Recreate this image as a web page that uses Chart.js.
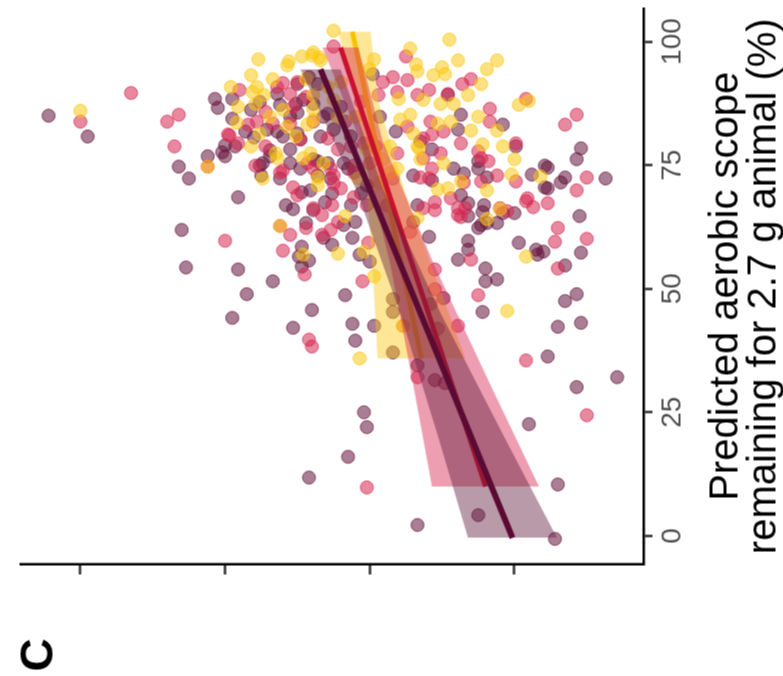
<!DOCTYPE html>
<html>
<head>
<meta charset="utf-8">
<script src="https://cdn.jsdelivr.net/npm/chart.js@4"></script>
<style>
  html, body { margin: 0; padding: 0; background: #fff; overflow: hidden; }
  body { width: 783px; height: 676px; position: relative; }
  /* the plot is built upright, then turned a quarter turn to the left */
  #wrap {
    position: absolute; left: 53.5px; top: -53.5px;
    width: 676px; height: 783px;
    transform: rotate(-90deg); transform-origin: 50% 50%;
  }
  #panel {
    position: absolute; left: 5px; top: 9px;
    font: bold 46px "Liberation Sans", Arial, sans-serif; color: #000;
  }
</style>
</head>
<body>
<div id="wrap">
  <canvas id="myChart" width="676" height="783"></canvas>
  <div id="panel">C</div>
</div>
<script>
// ticks
const scopeTicks = [0, 25, 50, 75, 100];
const sideTicks = [10, 20, 30, 40];

// points, [scope %, side value]
const darkPts = [[85.0,42.2],[80.8,39.5],[74.7,33.2],[72.3,32.5],[76.8,31.2],[88.4,30.7],[86.6,30.5],[88.4,29.5],[84.4,29.5],[79.0,30.0],[77.6,30.2],[76.8,30.0],[68.5,29.1],[61.9,33.0],[54.3,32.7],[53.9,29.1],[48.9,28.5],[44.1,29.5],[48.7,21.7],[45.7,24.0],[42.1,25.3],[42.9,21.2],[42.5,19.7],[39.5,21.0],[25.0,20.4],[22.0,20.2],[16.0,21.5],[11.8,24.2],[45.3,12.2],[47.5,6.5],[48.9,5.7],[42.3,7.0],[43.1,5.4],[36.3,7.7],[32.1,2.9],[30.1,5.7],[22.6,9.0],[10.4,7.0],[4.2,12.5],[2.2,16.7],[-0.6,7.2],[37.1,18.4],[45.3,18.4],[47.9,18.4],[34.5,16.7],[31.5,15.5],[30.9,14.8],[55.9,13.9],[54.1,12.0],[51.5,12.0],[51.9,11.2],[56.9,8.4],[54.7,6.5],[74.5,7.7],[73.1,8.8],[76.2,5.7],[72.5,6.5],[71.5,6.8],[72.3,3.7],[70.3,7.7],[64.7,5.5],[65.3,10.0],[63.3,11.2],[63.3,11.9],[62.3,12.5],[65.5,12.2],[67.3,13.2],[64.7,13.2],[60.5,15.9],[59.3,9.7],[57.9,8.5],[57.5,8.0],[57.3,5.4],[59.7,13.2],[57.9,13.2],[72.5,11.9],[74.3,12.5],[73.3,13.5],[74.3,14.2],[71.9,15.7],[75.8,12.5],[72.9,17.0],[66.9,16.7],[51.5,26.7],[58.5,24.7],[56.5,24.9],[55.7,24.2],[54.5,24.7],[63.3,24.4],[66.1,25.3],[65.9,23.9],[60.3,23.2],[58.9,22.6],[62.9,21.8],[63.5,21.0],[60.3,21.2],[56.9,20.7],[55.5,20.0],[69.3,20.6],[67.5,23.1],[69.5,24.7],[72.3,26.2],[75.4,27.4],[72.9,27.5],[69.3,22.6],[74.3,21.5],[76.2,23.9],[74.3,24.8],[75.8,23.6],[75.4,22.9],[86.2,28.2],[89.4,26.4],[87.2,26.2],[92.8,24.2],[87.4,25.1],[82.2,27.1],[80.6,28.0],[78.8,29.3],[81.8,26.4],[85.6,25.0],[81.4,25.0],[82.2,22.5],[91.4,23.6],[84.8,23.2],[85.4,22.9],[78.0,26.9],[78.2,25.5],[93.4,19.8],[89.2,14.6],[85.2,13.7],[83.2,10.8],[78.2,15.7],[78.8,9.9],[74.9,7.9],[70.5,7.9],[65.3,10.8],[66.9,12.1],[62.9,12.3],[68.9,13.7],[63.5,17.0],[72.3,22.7],[66.9,21.3],[70.9,20.2],[75.4,21.8],[72.9,23.6],[75.4,25.5],[74.9,27.6],[76.8,26.9],[80.8,26.0],[80.2,24.8],[87.4,23.9],[88.2,24.6],[91.4,25.0],[79.8,16.5],[82.2,13.9],[78.4,5.4],[41.9,15.3],[48.1,14.9],[46.9,15.8],[84.8,25.5],[80.8,23.4],[86.8,22.0],[87.8,27.6],[81.8,28.6],[80.8,21.3],[69.9,24.1],[66.9,25.8],[84.8,19.3],[81.8,18.2]];

const redPts = [[83.8,40.0],[89.6,36.5],[83.8,34.0],[85.2,33.2],[78.8,33.5],[90.2,29.0],[81.0,29.7],[79.4,29.1],[59.7,30.0],[39.7,24.2],[38.3,24.0],[9.8,20.2],[48.7,12.5],[35.5,9.2],[24.4,5.0],[55.9,13.0],[54.1,7.0],[51.5,20.5],[32.1,16.7],[42.5,13.9],[53.9,15.5],[49.9,15.5],[71.7,9.9],[72.5,5.0],[69.9,5.7],[67.7,9.2],[66.5,8.7],[67.3,7.7],[65.7,10.5],[66.3,13.9],[64.5,13.7],[65.9,15.5],[62.3,7.0],[60.1,5.0],[59.5,7.2],[71.7,12.3],[71.5,13.5],[74.3,15.7],[75.8,11.8],[72.5,16.5],[61.5,17.2],[57.7,26.0],[52.9,24.5],[62.3,24.4],[66.3,23.9],[64.9,23.3],[60.9,23.3],[63.5,22.2],[61.9,22.7],[68.5,21.1],[59.3,20.1],[66.9,22.6],[74.3,23.9],[68.9,25.0],[70.5,25.3],[73.9,26.0],[71.3,22.5],[72.9,22.5],[74.9,21.1],[99.0,22.5],[91.6,26.0],[91.8,25.0],[85.8,27.2],[83.2,28.4],[83.8,27.8],[81.2,29.8],[83.4,26.7],[80.2,24.8],[80.4,22.9],[83.8,23.9],[97.0,17.5],[92.4,13.0],[91.4,13.6],[92.2,17.4],[92.8,18.4],[91.8,19.1],[89.2,19.4],[89.8,18.1],[89.2,16.7],[90.2,15.9],[89.4,14.6],[86.4,11.7],[88.4,9.2],[83.8,11.7],[79.4,13.7],[81.8,14.9],[82.8,17.4],[80.4,16.3],[77.4,18.1],[76.4,16.3],[76.4,12.3],[68.3,9.1],[72.9,11.2],[66.3,11.0],[66.3,13.4],[64.9,13.9],[68.3,14.4],[67.5,15.5],[72.3,15.9],[66.3,16.3],[66.9,18.8],[66.9,20.2],[73.5,21.1],[70.3,22.0],[75.4,20.0],[72.3,18.4],[79.4,20.4],[78.8,21.3],[78.2,22.2],[74.3,22.7],[75.4,24.3],[73.5,26.2],[83.4,25.5],[86.8,25.3],[90.8,26.4],[89.4,25.5],[83.2,6.5],[85.2,5.7],[79.4,9.9],[83.8,15.8],[81.2,15.7],[77.4,15.1],[77.8,12.5],[74.7,31.2],[62.7,26.2],[42.5,17.7],[88.8,24.4],[78.8,27.2],[83.8,21.7],[78.8,19.6],[60.9,25.5],[74.9,27.9],[87.8,20.6]];

const yellowPts = [[86.0,40.0],[83.6,29.2],[86.8,29.1],[35.9,20.7],[45.5,10.5],[76.2,10.0],[73.1,10.2],[72.7,8.2],[66.1,11.0],[64.1,11.9],[56.5,9.2],[69.9,11.9],[70.3,14.6],[70.1,15.3],[75.4,14.9],[71.7,13.7],[64.3,16.7],[74.3,18.1],[76.2,16.5],[72.3,27.4],[56.9,24.6],[64.7,21.7],[57.5,20.4],[57.1,22.2],[52.5,19.7],[70.9,23.6],[72.5,23.6],[76.4,24.6],[76.4,26.4],[75.4,23.2],[102.2,22.5],[96.4,27.7],[93.2,28.2],[92.4,26.7],[96.0,25.6],[97.0,24.7],[97.2,24.0],[96.8,23.5],[95.2,25.7],[89.8,28.1],[87.4,27.9],[89.2,27.3],[86.2,26.0],[92.4,24.4],[78.8,28.2],[82.8,25.7],[89.2,23.9],[90.8,22.9],[88.2,22.5],[84.8,22.2],[86.4,23.9],[83.2,24.3],[77.4,26.5],[100.4,14.5],[98.6,17.2],[96.2,13.9],[96.2,11.2],[94.4,11.9],[95.4,16.8],[94.0,16.7],[94.8,15.0],[93.4,14.8],[91.4,12.3],[87.2,9.7],[88.0,9.0],[84.8,12.5],[82.0,11.2],[79.2,12.2],[78.8,10.8],[93.2,15.6],[89.2,13.2],[87.4,15.1],[87.4,14.2],[83.8,14.4],[82.0,13.0],[78.4,16.6],[84.2,17.9],[85.2,17.2],[96.4,19.7],[94.4,20.0],[88.4,18.0],[88.2,16.3],[83.4,15.3],[81.4,17.0],[78.8,16.7],[71.5,19.3],[72.3,20.8],[76.2,19.1],[73.5,18.6],[78.2,20.2],[77.4,24.1],[81.4,27.6],[84.2,23.9],[90.8,27.8],[97.8,23.9],[96.2,23.4],[74.7,31.2],[62.7,26.2],[42.5,17.7],[84.8,26.9],[91.8,22.0],[80.8,25.1],[84.8,21.0],[90.8,29.6],[78.8,18.6]];

// fitted lines [scope, value] and bands [scope, low, high]
const darkFit = [[-0.4,10.14],[94.4,23.41]];
const darkBand = [[-0.4,7.06,13.21],[20,10.71,15.27],[45,15.09,17.89],[70,19.05,20.93],[94.4,22.02,24.79]];
const redFit = [[9.98,12.0],[98.8,22.02]];
const redBand = [[9.98,8.31,15.70],[30,11.57,16.96],[55,15.58,18.59],[80,19.12,20.68],[98.8,20.78,23.27]];
const yellowFit = [[35.9,16.43],[102.0,21.20]];
const yellowBand = [[35.9,13.39,19.47],[50,15.16,19.72],[70,17.61,20.17],[88,19.41,20.96],[102,19.95,22.16]];

const fontFam = '"Liberation Sans", Arial, sans-serif';

function xy(arr) { return arr.map(p => ({ x: p[0], y: p[1] })); }
function lo(arr) { return arr.map(b => ({ x: b[0], y: b[1] })); }
function hi(arr) { return arr.map(b => ({ x: b[0], y: b[2] })); }

function fitLine(data, color, width, order) {
  return { type: 'line', data: xy(data), borderColor: color, borderWidth: width,
           pointRadius: 0, fill: false, order: order };
}
function bandPair(data, color, order) {
  return [
    { type: 'line', data: hi(data), borderWidth: 0, borderColor: 'rgba(0,0,0,0)',
      backgroundColor: color, pointRadius: 0, fill: '+1', order: order },
    { type: 'line', data: lo(data), borderWidth: 0, borderColor: 'rgba(0,0,0,0)',
      pointRadius: 0, fill: false, order: order }
  ];
}
function dots(data, rgb, order) {
  return { type: 'scatter', data: xy(data), pointRadius: 6.5, borderWidth: 1,
           backgroundColor: 'rgba(' + rgb + ',0.55)', borderColor: 'rgba(' + rgb + ',0.7)',
           order: order };
}

const ctx = document.getElementById('myChart');

const grafico = new Chart(ctx, {
  type: 'scatter',
  data: {
    datasets: [
      fitLine(darkFit, '#5b0b33', 6, 1),
      ...bandPair(darkBand, 'rgba(100,30,65,0.45)', 2),
      fitLine(redFit, '#c8102f', 5, 3),
      ...bandPair(redBand, 'rgba(214,40,80,0.45)', 4),
      fitLine(yellowFit, '#f7c300', 5, 5),
      ...bandPair(yellowBand, 'rgba(250,200,20,0.45)', 6),
      dots(yellowPts, '250,200,20', 7),
      dots(redPts, '214,40,80', 8),
      dots(darkPts, '100,20,60', 9)
    ]
  },
  options: {
    responsive: false,
    animation: false,
    events: [],
    layout: { padding: { top: 20, right: 0, bottom: 0, left: 0 } },
    plugins: { legend: { display: false }, tooltip: { enabled: false } },
    scales: {
      x: {
        type: 'linear',
        min: -5.79,
        max: 106.79,
        afterBuildTicks: (s) => { s.ticks = scopeTicks.map(v => ({ value: v })); },
        afterFit: (s) => { s.height = 140; },
        grid: { drawOnChartArea: false, drawTicks: true, tickLength: 9,
                tickColor: '#333', tickWidth: 2.5 },
        border: { color: '#000', width: 2.5 },
        ticks: { color: '#4d4d4d', padding: 3, maxRotation: 0,
                 font: { family: fontFam, size: 28 } },
        title: {
          display: true,
          text: ['Predicted aerobic scope', 'remaining for 2.7 g animal (%)'],
          color: '#000',
          font: { family: fontFam, size: 40, lineHeight: 0.95 },
          padding: { top: 0, bottom: 0 }
        }
      },
      y: {
        type: 'linear',
        min: 1.08,
        max: 44.14,
        afterBuildTicks: (s) => { s.ticks = sideTicks.map(v => ({ value: v })); },
        afterFit: (s) => { s.width = 112; },
        grid: { drawOnChartArea: false, drawTicks: true, tickLength: 10,
                tickColor: '#333', tickWidth: 2.5 },
        border: { color: '#000', width: 2.5 },
        ticks: { display: false }
      }
    }
  }
});
</script>
</body>
</html>
